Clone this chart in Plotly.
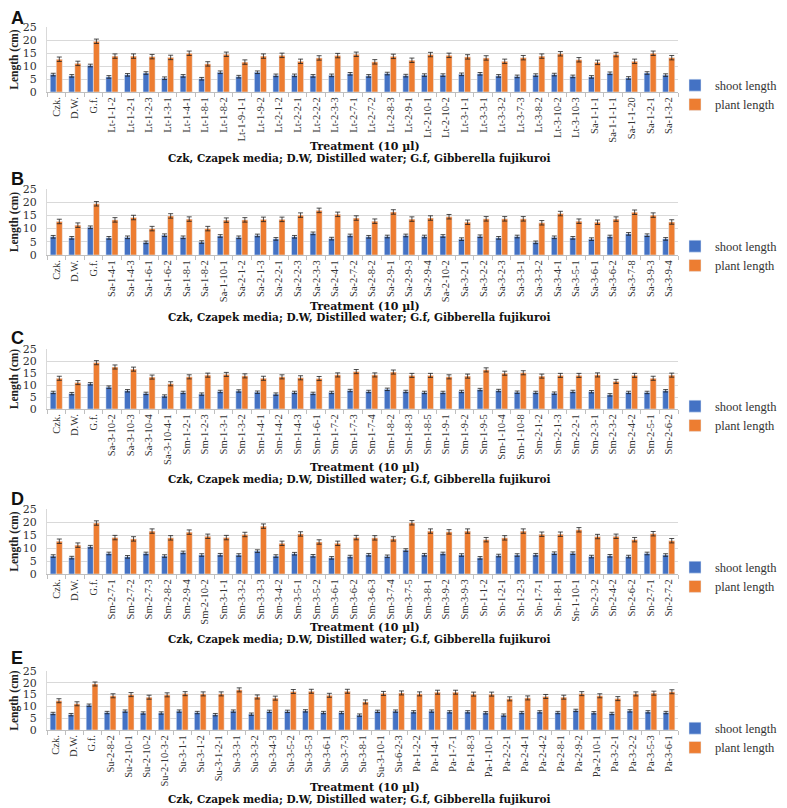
import plotly.graph_objects as go

# ---- data ----------------------------------------------------------------
a_labels = ['Czk.', 'D.W.', 'G.f.', 'Lt-1-1-2', 'Lt-1-2-1', 'Lt-1-2-3', 'Lt-1-3-1', 'Lt-1-4-1',
            'Lt-1-8-1', 'Lt-1-8-2', 'Lt-1-9-1-1', 'Lt-1-9-2', 'Lt-2-1-2', 'Lt-2-2-1', 'Lt-2-2-2',
            'Lt-2-3-3', 'Lt-2-7-1', 'Lt-2-7-2', 'Lt-2-8-3', 'Lt-2-9-1', 'Lt-2-10-1', 'Lt-2-10-2',
            'Lt-3-1-1', 'Lt-3-3-1', 'Lt-3-3-2', 'Lt-3-7-3', 'Lt-3-8-2', 'Lt-3-10-2', 'Lt-3-10-3',
            'Sa-1-1-1', 'Sa-1-1-1-1', 'Sa-1-1-20', 'Sa-1-2-1', 'Sa-1-3-2']
a_shoot = [6.7, 6.2, 10.2, 5.8, 6.6, 7.3, 5.3, 6.2, 5.1, 7.6, 5.9, 7.6, 6.4, 6.4, 6.2, 6.4, 7.0,
           6.2, 7.1, 6.3, 6.5, 6.5, 6.8, 7.0, 6.2, 6.0, 6.5, 6.7, 6.0, 5.8, 7.2, 5.4, 7.3, 6.5]
a_plant = [12.6, 11.0, 19.5, 13.8, 13.8, 13.6, 13.3, 14.9, 10.8, 14.5, 11.5, 13.8, 14.1, 11.8,
           13.1, 14.0, 14.5, 11.6, 13.7, 12.2, 14.4, 14.1, 13.5, 13.1, 11.8, 13.2, 13.8, 14.7,
           12.4, 11.4, 14.4, 11.8, 14.9, 13.2]

b_labels = ['Czk.', 'D.W.', 'G.f.', 'Sa-1-4-1', 'Sa-1-4-3', 'Sa-1-6-1', 'Sa-1-6-2', 'Sa-1-8-1',
            'Sa-1-8-2', 'Sa-1-10-1', 'Sa-2-1-2', 'Sa-2-1-3', 'Sa-2-2-1', 'Sa-2-2-3', 'Sa-2-3-3',
            'Sa-2-4-1', 'Sa-2-7-2', 'Sa-2-8-2', 'Sa-2-9-1', 'Sa-2-9-3', 'Sa-2-9-4', 'Sa-2-10-2',
            'Sa-3-2-1', 'Sa-3-2-2', 'Sa-3-2-3', 'Sa-3-3-1', 'Sa-3-3-2', 'Sa-3-4-1', 'Sa-3-5-1',
            'Sa-3-6-1', 'Sa-3-6-2', 'Sa-3-7-8', 'Sa-3-9-3', 'Sa-3-9-4']
b_shoot = [6.9, 6.5, 10.5, 6.5, 6.7, 4.8, 7.5, 6.7, 4.9, 7.2, 6.7, 7.4, 6.1, 6.9, 8.2, 6.2, 7.4,
           6.9, 7.0, 7.4, 7.0, 7.2, 6.0, 7.1, 6.5, 7.0, 4.8, 6.7, 6.5, 6.0, 7.0, 8.0, 7.5, 6.1]
b_plant = [12.7, 11.3, 19.4, 13.3, 14.2, 10.0, 14.8, 13.6, 10.0, 13.2, 13.3, 13.5, 13.5, 15.1,
           16.9, 15.4, 14.0, 12.8, 16.3, 13.6, 14.0, 14.5, 12.4, 13.7, 13.7, 13.7, 12.2, 15.7,
           12.8, 12.4, 13.6, 16.2, 15.1, 12.5]

c_labels = ['Czk.', 'D.W.', 'G.f.', 'Sa-3-10-2', 'Sa-3-10-3', 'Sa-3-10-4', 'Sa-3-10-4-1',
            'Sm-1-2-1', 'Sm-1-2-3', 'Sm-1-3-1', 'Sm-1-3-2', 'Sm-1-4-1', 'Sm-1-4-2', 'Sm-1-4-3',
            'Sm-1-6-1', 'Sm-1-7-2', 'Sm-1-7-3', 'Sm-1-7-4', 'Sm-1-8-2', 'Sm-1-8-3', 'Sm-1-8-5',
            'Sm-1-9-1', 'Sm-1-9-2', 'Sm-1-9-5', 'Sm-1-10-4', 'Sm-1-10-8', 'Sm-2-1-2', 'Sm-2-1-3',
            'Sm-2-2-1', 'Sm-2-3-1', 'Sm-2-3-2', 'Sm-2-4-2', 'Sm-2-5-1', 'Sm-2-6-2']
c_shoot = [6.9, 6.4, 10.5, 9.1, 7.6, 6.5, 5.4, 6.9, 6.2, 7.3, 7.5, 7.0, 6.2, 6.9, 6.5, 6.9, 7.7,
           7.3, 8.2, 7.3, 6.9, 6.9, 7.3, 8.1, 7.7, 7.0, 6.9, 6.6, 7.3, 7.2, 5.9, 6.9, 6.9, 7.6]
c_plant = [12.8, 11.0, 19.3, 17.5, 16.6, 13.3, 10.5, 13.4, 14.1, 14.4, 13.8, 12.8, 13.4, 13.0,
           12.7, 14.2, 15.6, 14.2, 15.4, 14.0, 14.0, 13.4, 13.7, 16.3, 14.9, 15.1, 13.7, 14.0,
           14.0, 14.2, 11.5, 14.0, 12.8, 14.1]

d_labels = ['Czk.', 'D.W.', 'G.f.', 'Sm-2-7-1', 'Sm-2-7-2', 'Sm-2-7-3', 'Sm-2-8-2', 'Sm-2-9-4',
            'Sm-2-10-2', 'Sm-3-1-1', 'Sm-3-3-2', 'Sm-3-3-3', 'Sm-3-4-2', 'Sm-3-5-1', 'Sm-3-5-2',
            'Sm-3-6-1', 'Sm-3-6-2', 'Sm-3-6-3', 'Sm-3-7-4', 'Sm-3-7-5', 'Sm-3-8-1', 'Sm-3-9-2',
            'Sm-3-9-3', 'Sn-1-1-2', 'Sn-1-2-1', 'Sn-1-2-3', 'Sn-1-7-1', 'Sn-1-8-1', 'Sn-1-10-1',
            'Sn-2-3-2', 'Sn-2-4-2', 'Sn-2-6-2', 'Sn-2-7-1', 'Sn-2-7-2']
d_shoot = [6.9, 6.3, 10.5, 7.9, 6.6, 7.9, 6.9, 8.3, 7.3, 7.4, 7.3, 8.8, 6.9, 7.8, 7.0, 6.2, 6.7,
           7.4, 6.8, 9.2, 7.4, 7.9, 7.3, 6.2, 7.1, 7.3, 7.4, 8.0, 8.0, 6.7, 7.0, 6.7, 7.9, 7.3]
d_plant = [12.6, 11.1, 19.6, 14.0, 13.5, 16.5, 13.9, 16.1, 14.5, 14.0, 15.2, 18.4, 11.8, 15.4,
           12.3, 11.8, 14.0, 13.9, 13.5, 19.7, 16.5, 16.2, 16.5, 13.2, 13.9, 16.5, 15.3, 15.3,
           17.0, 14.4, 14.5, 13.2, 15.5, 12.8]

e_labels = ['Czk.', 'D.W.', 'G.f.', 'Su-2-8-2', 'Su-2-10-1', 'Su-2-10-2', 'Su-2-10-3-2',
            'Su-3-1-1', 'Su-3-1-2', 'Su-3-1-2-1', 'Su-3-3-1', 'Su-3-3-2', 'Su-3-4-3', 'Su-3-5-2',
            'Su-3-5-3', 'Su-3-6-1', 'Su-3-7-3', 'Su-3-8-1', 'Su-3-10-1', 'Su-6-2-3', 'Pa-1-2-2',
            'Pa-1-4-1', 'Pa-1-7-1', 'Pa-1-8-3', 'Pa-1-10-1', 'Pa-2-2-1', 'Pa-2-4-1', 'Pa-2-4-2',
            'Pa-2-8-1', 'Pa-2-9-2', 'Pa-2-10-1', 'Pa-3-2-1', 'Pa-3-2-2', 'Pa-3-5-3', 'Pa-3-6-1']
e_shoot = [7.0, 6.5, 10.5, 7.4, 8.0, 7.2, 7.2, 8.0, 7.4, 6.5, 8.0, 6.7, 7.9, 7.9, 8.1, 7.4, 7.4,
           6.3, 7.9, 8.0, 7.7, 8.0, 7.7, 7.7, 7.3, 6.3, 7.4, 7.7, 7.4, 8.3, 7.3, 7.0, 8.1, 7.7, 7.4]
e_plant = [12.4, 11.1, 19.5, 14.5, 15.0, 13.9, 14.9, 15.4, 15.3, 15.3, 17.0, 14.0, 13.5, 16.3,
           16.4, 14.7, 16.4, 11.9, 15.5, 15.7, 15.3, 16.0, 16.0, 15.2, 15.2, 13.2, 13.6, 14.2,
           13.9, 15.4, 14.5, 13.3, 15.3, 15.6, 16.2]

SHOOT_ERR = 0.5
PLANT_ERR = 0.85

# ---- layout helpers --------------------------------------------------------
# positions are measured in page pixels; the page body adds an 8px margin
OFF = 8
W, H = 787 - OFF, 808 - OFF
BLUE = '#4472C4'
ORANGE = '#ED7D31'
SERIF = 'Liberation Serif'
WIDE_SERIF = 'DejaVu Serif'


def px(pix):
    return max(pix - OFF, 0) / W


def py(pix):
    return 1 - (pix - OFF) / H


# letter, data, plot top px, plot bottom px, letter y, title y, note y, legend y
panels = [
    ('A', a_labels, a_shoot, a_plant, 27, 92, 18, 146, 158, 95),
    ('B', b_labels, b_shoot, b_plant, 189, 255, 179, 306, 318, 256),
    ('C', c_labels, c_shoot, c_plant, 349, 409, 338, 467, 479, 416),
    ('D', d_labels, d_shoot, d_plant, 509, 574, 499, 627, 639, 577),
    ('E', e_labels, e_shoot, e_plant, 671, 730, 658, 787, 799, 738),
]

fig = go.Figure()
layout = {}
annotations = []

for i, (letter, labels, shoot, plant, top, bottom, ly, ty, ny, gy) in enumerate(panels):
    n = i + 1
    xa = 'x' if n == 1 else f'x{n}'
    ya = 'y' if n == 1 else f'y{n}'
    lg = 'legend' if n == 1 else f'legend{n}'

    fig.add_trace(go.Bar(
        x=labels, y=shoot, name='shoot length', marker_color=BLUE,
        error_y=dict(type='constant', value=SHOOT_ERR, color='#222', thickness=0.8, width=2.5),
        xaxis=xa, yaxis=ya, legend=lg, offsetgroup='s',
    ))
    fig.add_trace(go.Bar(
        x=labels, y=plant, name='plant length', marker_color=ORANGE,
        error_y=dict(type='constant', value=PLANT_ERR, color='#222', thickness=0.8, width=2.5),
        xaxis=xa, yaxis=ya, legend=lg, offsetgroup='p',
    ))

    xkey = 'xaxis' if n == 1 else f'xaxis{n}'
    ykey = 'yaxis' if n == 1 else f'yaxis{n}'
    layout[xkey] = dict(
        domain=[px(47), px(678)], anchor=ya, type='category', automargin=False,
        tickangle=-90, tickfont=dict(family=SERIF, size=10.5, color='#333'),
        showline=True, linecolor='#BFBFBF', linewidth=1,
        ticks='outside', tickson='boundaries', ticklen=4, tickcolor='#BFBFBF',
        showgrid=False, fixedrange=True,
    )
    layout[ykey] = dict(
        domain=[py(bottom), py(top)], anchor=xa, range=[0, 25], dtick=5, automargin=False,
        showgrid=True, gridcolor='#D9D9D9', gridwidth=1,
        showline=True, linecolor='#D9D9D9', zeroline=False,
        tickfont=dict(family=WIDE_SERIF, size=11, color='#333'), ticklabelstandoff=7,
        title=dict(text='<b>Length (cm)</b>', font=dict(family=SERIF, size=11.5, color='#222'),
                   standoff=8),
        fixedrange=True,
    )
    layout[lg] = dict(
        x=px(675), y=py(gy), xanchor='left', yanchor='middle',
        font=dict(family=SERIF, size=12.5, color='#333'),
        bgcolor='rgba(0,0,0,0)', tracegroupgap=0, itemwidth=30,
    )

    annotations.append(dict(
        text=f'<b>{letter}</b>', x=1 / W, y=py(ly), xref='paper', yref='paper',
        xanchor='left', yanchor='middle', showarrow=False,
        font=dict(family='Liberation Sans', size=18, color='#111'),
    ))
    annotations.append(dict(
        text='<b>Treatment (10 µl)</b>', x=px(365), y=py(ty), xref='paper', yref='paper',
        xanchor='center', yanchor='middle', showarrow=False,
        font=dict(family=WIDE_SERIF, size=11, color='#111'),
    ))
    annotations.append(dict(
        text='<b>Czk, Czapek media; D.W, Distilled water; G.f, Gibberella fujikuroi</b>',
        x=px(359), y=py(ny), xref='paper', yref='paper',
        xanchor='center', yanchor='middle', showarrow=False,
        font=dict(family=WIDE_SERIF, size=10.5, color='#111'),
    ))

fig.update_layout(
    width=W, height=H,
    margin=dict(l=0, r=0, t=0, b=0),
    paper_bgcolor='white', plot_bgcolor='white',
    barmode='group', bargap=0.35, bargroupgap=0,
    showlegend=True,
    annotations=annotations,
    **layout,
)

fig.write_html('out.html')
